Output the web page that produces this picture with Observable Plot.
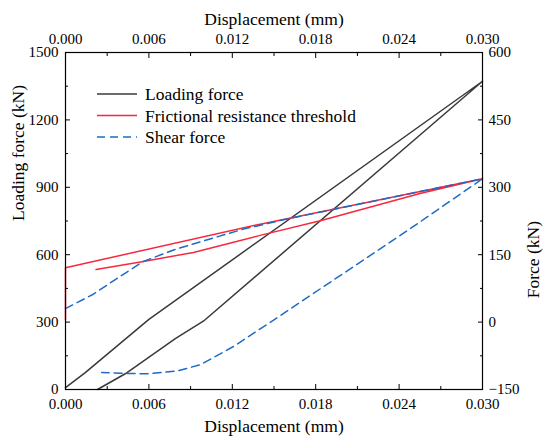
<!DOCTYPE html>
<html>
<head>
<meta charset="utf-8">
<script src="https://cdn.jsdelivr.net/npm/d3@7"></script>
<script src="https://cdn.jsdelivr.net/npm/@observablehq/plot@0.6"></script>
<style>
  html, body { margin: 0; padding: 0; background: #fff; }
</style>
</head>
<body>
<div id="chart"></div>
<script>
// ---- Data ----
// Loading force loop (left axis, kN): loading branch then unloading branch
const loadDisp  = [0, 0.0014, 0.006, 0.030, 0.010, 0.0079, 0.0043, 0.0023];
const loadForce = [8, 74, 312, 1372, 308, 226, 70, 0];

// Frictional resistance threshold (right axis, kN)
const fricDisp  = [0, 0, 0.014, 0.030, 0.0255, 0.0184, 0.014, 0.0116, 0.0092, 0.0056, 0.0022];
const fricForce = [5, 121, 218, 319, 286, 226, 193, 174, 155, 135, 117];

// Shear force (right axis, kN)
const shearDisp  = [0, 0.002, 0.0035, 0.0056, 0.008, 0.0104, 0.0128, 0.016, 0.030, 0.0249, 0.015, 0.0121, 0.0097, 0.008, 0.006, 0.004, 0.0026];
const shearForce = [30, 62, 93, 135, 163, 185, 207, 230, 319, 210, 5, -54, -95, -109, -115, -114, -112];

// Axis ticks
const xMajor = [0, 0.006, 0.012, 0.018, 0.024, 0.030];
const xMinor = [0.003, 0.009, 0.015, 0.021, 0.027];
const yMajor = [0, 300, 600, 900, 1200, 1500];
const yMinor = [150, 450, 750, 1050, 1350];
const rightTicks = [-150, 0, 150, 300, 450, 600];
const rightMinor = [-75, 75, 225, 375, 525];

const seriesNames = ["Loading force", "Frictional resistance threshold", "Shear force"];
const seriesColors = ["#3a3a3a", "#f7283e", "#1f6bc4"];

// right axis (-150..600) maps onto left axis (0..1500)
const toLeft = f => 2 * (f + 150);

const loadData  = loadDisp.map((d, i) => ({d, v: loadForce[i]}));
const fricData  = fricDisp.map((d, i) => ({d, v: fricForce[i]}));
const shearData = shearDisp.map((d, i) => ({d, v: shearForce[i]}));

const font = "'Liberation Serif', 'Times New Roman', serif";
const minus = s => String(s).replace("-", "\u2212");

const chart = Plot.plot({
  width: 550,
  height: 448,
  marginLeft: 65,
  marginRight: 68,
  marginTop: 52,
  marginBottom: 59,
  style: {fontFamily: font, fontSize: "15px", color: "#000", background: "#fff"},
  x: {domain: [0, 0.03], label: null},
  y: {domain: [0, 1500], label: null},
  marks: [
    Plot.line(loadData, {x: "d", y: "v", stroke: seriesColors[0], strokeWidth: 1.5}),
    Plot.line(fricData, {x: "d", y: d => toLeft(d.v), stroke: seriesColors[1], strokeWidth: 1.5}),
    Plot.line(shearData, {x: "d", y: d => toLeft(d.v), stroke: seriesColors[2], strokeWidth: 1.5, strokeDasharray: "8,5"}),
    Plot.frame({stroke: "#000", strokeWidth: 1.2}),
    // bottom axis
    Plot.axisX(xMajor, {anchor: "bottom", tickSize: -5, tickPadding: 14, label: null, tickFormat: d3.format(".3f")}),
    Plot.axisX(xMinor, {anchor: "bottom", tickSize: -3, fill: "none", label: null}),
    // top axis
    Plot.axisX(xMajor, {anchor: "top", tickSize: -5, tickPadding: 14, label: null, tickFormat: d3.format(".3f")}),
    Plot.axisX(xMinor, {anchor: "top", tickSize: -3, fill: "none", label: null}),
    // left axis
    Plot.axisY(yMajor, {anchor: "left", tickSize: -5, tickPadding: 12, label: null, tickFormat: d => String(d)}),
    Plot.axisY(yMinor, {anchor: "left", tickSize: -3, fill: "none", label: null}),
    // right axis (Force)
    Plot.axisY(rightTicks.map(toLeft), {anchor: "right", tickSize: -5, tickPadding: 11, label: null, tickFormat: v => minus(v / 2 - 150)}),
    Plot.axisY(rightMinor.map(toLeft), {anchor: "right", tickSize: -3, fill: "none", label: null}),
    // axis titles
    Plot.text(["Displacement (mm)"], {text: d => d, frameAnchor: "bottom", dy: 42, fontSize: 17.5}),
    Plot.text(["Displacement (mm)"], {text: d => d, frameAnchor: "top", dy: -40, fontSize: 17.5}),
    Plot.text(["Loading force (kN)"], {text: d => d, frameAnchor: "left", dx: -47, rotate: -90, fontSize: 17.5}),
    Plot.text(["Force (kN)"], {text: d => d, frameAnchor: "right", dx: 51, rotate: -90, fontSize: 17.5})
  ]
});

// legend inside the plot
const svg = d3.select(chart);
const leg = svg.append("g").attr("font-family", font).attr("font-size", 17.5).attr("text-anchor", "start");
seriesNames.forEach((name, i) => {
  const y = 94 + i * 21.5;
  leg.append("line")
    .attr("x1", 97).attr("x2", 137).attr("y1", y).attr("y2", y)
    .attr("stroke", seriesColors[i]).attr("stroke-width", 1.5)
    .attr("stroke-dasharray", i === 2 ? "8,5" : null);
  leg.append("text")
    .attr("x", 145).attr("y", y).attr("dy", "0.35em")
    .attr("text-anchor", "start")
    .attr("fill", "#000")
    .text(name);
});

document.getElementById("chart").appendChild(chart);
</script>
</body>
</html>
